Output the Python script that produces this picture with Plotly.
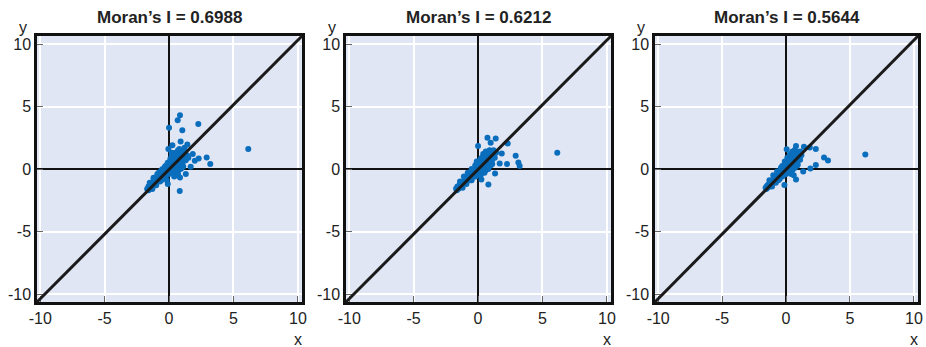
import plotly.graph_objects as go

titles = ["Moran’s I = 0.6988", "Moran’s I = 0.6212", "Moran’s I = 0.5644"]
tick_vals = [-10, -5, 0, 5, 10]
tick_text = ["-10", "-5", "0", "5", "10"]

# Panel 1 (x = standardized value, y = spatial lag)
p1_x = [-1.7, -1.6, -1.6, -1.5, -1.5, -1.45, -1.4, -1.4, -1.35, -1.3, -1.3, -1.25, -1.2, -1.2, -1.15,
        -1.1, -1.1, -1.05, -1.0, -1.0, -0.95, -0.9, -0.9, -0.85, -0.8, -0.8, -0.75, -0.7, -0.7, -0.65,
        -0.6, -0.6, -0.55, -0.5, -0.5, -0.45, -0.4, -0.4, -0.35, -0.3, -0.3, -0.25, -0.2, -0.2, -0.15,
        -0.1, -0.1, -0.05, 0.0, 0.0, 0.05, 0.1, 0.1, 0.15, 0.2, 0.2, 0.25, 0.3, 0.3, 0.35, 0.4, 0.4,
        0.45, 0.5, 0.5, 0.55, 0.6, 0.6, 0.65, 0.7, 0.7, 0.75, 0.8, 0.8, 0.85, 0.9, 0.9, 1.0, 1.0, 1.1,
        1.2, 1.3, 1.4, 1.5, 0.3, 0.5, 0.7, 0.9, 0.6, 1.1, -0.1, 0.1, 0.3, 0.5, -0.3, 0.2, 0.7, 1.2,
        -1.5, -1.2, -0.9, -0.6, -0.3, -1.3, -1.0, -0.7, -0.4, -0.8, -0.5, -0.2, 0.1, 0.4, 0.0, 0.3,
        -0.6, -0.3, 0.0, 0.6, 0.9, 1.2, 0.4, 0.7, 1.0, -0.9, -1.2, 0.2, 0.5, 0.8,
        0.85, 0.67, 2.27, 0.0, 1.03, 6.15, 0.83, 2.92, 3.2, 2.3, 1.84, 0.9, 0.26, 1.42, -0.05, 1.68,
        1.3, 0.85, -0.18, -0.1, 2.0]
p1_y = [-1.6, -1.7, -1.4, -1.5, -1.3, -1.6, -1.2, -1.45, -1.35, -1.1, -1.5, -1.25, -1.0, -1.3, -1.15,
        -0.9, -1.2, -1.0, -0.8, -1.1, -0.95, -0.7, -1.0, -0.85, -0.6, -0.9, -0.75, -0.5, -0.8, -0.6,
        -0.4, -0.7, -0.5, -0.3, -0.6, -0.4, -0.2, -0.5, -0.3, -0.1, -0.4, -0.2, 0.0, -0.3, -0.1,
        0.1, -0.2, 0.0, 0.2, -0.1, 0.1, 0.3, -0.05, 0.2, 0.4, 0.0, 0.3, 0.5, 0.1, 0.4, 0.6, 0.2,
        0.5, 0.7, 0.3, 0.6, 0.8, 0.2, 0.5, 0.9, 0.4, 0.7, 1.0, 0.3, 0.6, 1.1, 0.5, 0.8, 1.2, 0.6,
        1.0, 0.7, 1.1, 0.9, -0.3, -0.2, -0.1, 0.0, -0.5, 0.2, 0.5, 0.8, 1.0, 1.3, 0.2, 1.3, 1.5, 1.4,
        -1.1, -0.7, -0.4, -0.1, 0.2, -1.6, -1.3, -1.0, -0.7, -0.3, 0.0, 0.3, 0.6, 0.9, -0.4, -0.2,
        -0.9, -0.6, 0.5, 1.2, 1.4, 1.7, -0.6, -0.4, 0.1, -0.5, -0.8, 1.0, 1.1, 1.6,
        4.3, 3.9, 3.6, 3.3, 3.1, 1.6, -1.76, 0.93, 0.4, 0.85, 1.2, 2.2, 1.9, 1.97, 1.6, 0.19,
        -0.4, -0.67, -0.88, -1.2, 0.66]

# Panel 2
p2_x = [-1.7, -1.65, -1.6, -1.55, -1.5, -1.45, -1.4, -1.4, -1.35, -1.3, -1.25, -1.2, -1.2, -1.15,
        -1.1, -1.05, -1.0, -1.0, -0.95, -0.9, -0.85, -0.8, -0.8, -0.75, -0.7, -0.65, -0.6, -0.6,
        -0.55, -0.5, -0.45, -0.4, -0.4, -0.35, -0.3, -0.25, -0.2, -0.2, -0.15, -0.1, -0.05, 0.0, 0.0,
        0.05, 0.1, 0.15, 0.2, 0.2, 0.25, 0.3, 0.35, 0.4, 0.4, 0.45, 0.5, 0.55, 0.6, 0.6, 0.65, 0.7,
        0.75, 0.8, 0.8, 0.9, 1.0, 1.1, 1.2, 1.3, 1.4, 0.2, 0.4, 0.6, 0.8, 1.0, 0.5, 0.0, 0.2, 0.4,
        0.6, 0.9, 1.1, -0.2, 0.1,
        -1.4, -1.1, -0.8, -0.5, -0.2, -1.2, -0.9, -0.6, -0.3, 0.1, 0.4, 0.7, 1.0, -0.1, 0.3, 0.6,
        0.9, 1.2, -0.5, -0.2, 0.2, 0.5, 0.8, 1.1,
        6.15, 0.73, 1.37, 0.98, 2.3, 0.0, 2.92, 3.13, 3.23, 2.25, 1.84, 0.8, 1.32, 0.26, 1.68]
p2_y = [-1.55, -1.7, -1.4, -1.6, -1.35, -1.5, -1.25, -1.45, -1.3, -1.15, -1.35, -1.05, -1.25, -1.1,
        -0.95, -1.1, -0.85, -1.05, -0.9, -0.75, -0.9, -0.65, -0.85, -0.7, -0.55, -0.75, -0.45, -0.65,
        -0.5, -0.35, -0.55, -0.25, -0.45, -0.3, -0.15, -0.35, -0.05, -0.3, -0.1, 0.05, -0.2, 0.15, -0.1,
        0.05, 0.25, 0.0, 0.35, 0.1, 0.25, 0.45, 0.15, 0.55, 0.25, 0.4, 0.65, 0.3, 0.75, 0.4, 0.55, 0.85,
        0.5, 0.95, 0.45, 0.7, 1.0, 0.75, 1.1, 0.9, 1.3, -0.35, -0.25, -0.1, 0.0, 0.3, 1.0, 0.5, 0.8, 1.2,
        1.4, 1.5, 1.2, 0.3, -0.45,
        -1.0, -0.6, -0.3, 0.0, 0.3, -1.5, -1.2, -0.9, -0.6, -0.2, 0.1, 0.2, 0.5, 0.6, 0.9, 1.1,
        1.3, 1.5, -0.9, -0.6, -0.5, -0.3, 0.1, 0.4,
        1.3, 2.5, 2.45, 2.1, 2.05, 1.84, 1.07, 0.53, 0.24, 0.4, 1.25, -1.23, -0.35, -0.83, 0.45]

# Panel 3
p3_x = [-1.6, -1.55, -1.5, -1.45, -1.4, -1.4, -1.35, -1.3, -1.25, -1.2, -1.2, -1.15, -1.1, -1.05,
        -1.0, -1.0, -0.95, -0.9, -0.85, -0.8, -0.8, -0.75, -0.7, -0.65, -0.6, -0.6, -0.55, -0.5,
        -0.45, -0.4, -0.4, -0.35, -0.3, -0.25, -0.2, -0.2, -0.15, -0.1, -0.05, 0.0, 0.0, 0.05, 0.1,
        0.15, 0.2, 0.2, 0.25, 0.3, 0.35, 0.4, 0.4, 0.45, 0.5, 0.55, 0.6, 0.6, 0.65, 0.7, 0.75, 0.8,
        0.9, 1.0, 1.1, 1.2, 0.3, 0.5, 0.7, 0.9, 0.1, 0.3, 0.5, 0.7, 1.0, -0.3, -0.1, 0.4, 0.6,
        -1.3, -1.0, -0.7, -0.4, -0.1, -1.1, -0.8, -0.5, -0.2, 0.2, 0.5, 0.8, 1.1, 0.0, 0.3, 0.6,
        0.9, -0.6, -0.3, 0.1, 0.4, 0.7,
        6.2, 2.97, 3.28, 2.33, 2.33, 0.78, 1.4, 0.05, 1.86, 1.9, 0.78, -0.13, 1.34]
p3_y = [-1.5, -1.6, -1.35, -1.5, -1.25, -1.45, -1.3, -1.15, -1.3, -1.05, -1.25, -1.1, -0.95, -1.1,
        -0.85, -1.05, -0.9, -0.75, -0.9, -0.65, -0.85, -0.7, -0.55, -0.75, -0.45, -0.65, -0.5, -0.35,
        -0.55, -0.25, -0.45, -0.3, -0.15, -0.35, -0.05, -0.3, -0.1, 0.05, -0.2, 0.15, -0.1, 0.05, 0.25,
        0.0, 0.35, 0.1, 0.25, 0.45, 0.15, 0.55, 0.25, 0.4, 0.65, 0.3, 0.75, 0.4, 0.55, 0.85, 0.5, 0.95,
        0.7, 1.0, 0.75, 1.1, -0.25, -0.1, 0.1, 0.3, 0.9, 1.2, 1.4, 1.55, 1.3, 0.25, 0.6, -0.4, -0.5,
        -0.9, -0.5, -0.2, 0.1, 0.4, -1.4, -1.1, -0.8, -0.5, 0.6, 0.9, 1.2, 1.4, -0.4, -0.2, 0.1,
        0.4, -0.9, -0.6, -0.3, -0.1, 1.3,
        1.17, 0.93, 0.69, 1.6, 0.32, 1.84, 1.78, 1.58, 1.73, 0.05, -0.83, -1.28, -0.2]

xs = [p1_x, p2_x, p3_x]
ys = [p1_y, p2_y, p3_y]

W, H = 926, 347
lefts = [37, 346, 655]
rights = [302, 611, 918]
top, bottom = 36, 302
ml, mr, mt, mb = lefts[0], W - rights[2], top, H - bottom
pw = W - ml - mr
ph = H - mt - mb
domains = [[(l - ml) / pw, (r - ml) / pw] for l, r in zip(lefts, rights)]

FONT = "Liberation Sans, Arial, sans-serif"
BLUE = "#0a6ebd"
TXT = "#222"

fig = go.Figure()
annotations = []
shapes = []
for i in range(3):
    sfx = "" if i == 0 else str(i + 1)
    pwid = rights[i] - lefts[i]
    fig.add_trace(go.Scatter(
        x=xs[i], y=ys[i], mode="markers",
        marker=dict(color=BLUE, size=6, line=dict(width=0)),
        xaxis="x" + sfx, yaxis="y" + sfx, showlegend=False, hoverinfo="x+y"))
    common = dict(tickvals=tick_vals, ticktext=tick_text,
                  ticks="inside", ticklen=6, tickcolor="#666", tickwidth=1,
                  showgrid=True, gridcolor="white", gridwidth=2,
                  zeroline=True, zerolinecolor="#111", zerolinewidth=2,
                  showline=True, mirror=True, linecolor="#111", linewidth=2.5,
                  tickfont=dict(family=FONT, size=16, color=TXT),
                  ticklabeloverflow="allow",
                  automargin=False, fixedrange=True)
    ax = dict(domain=domains[i], range=[-10.25, 10.32], anchor="y" + sfx, **common)
    ay = dict(domain=[0, 1], range=[-10.64, 10.64], anchor="x" + sfx, **common)
    fig.update_layout(**{"xaxis" + sfx: ax, "yaxis" + sfx: ay})
    shapes.append(dict(type="line", xref="x" + sfx + " domain", yref="y" + sfx + " domain",
                       x0=0, y0=0, x1=1, y1=1, line=dict(color="#1a1a1a", width=3), layer="above"))
    annotations.append(dict(text="<b>" + titles[i] + "</b>", xref="x" + sfx + " domain",
                            yref="y" + sfx + " domain", x=0.5, y=1 + 18 / ph, showarrow=False,
                            font=dict(family=FONT, size=17, color=TXT),
                            xanchor="center", yanchor="middle"))
    annotations.append(dict(text="x", xref="x" + sfx + " domain", yref="y" + sfx + " domain",
                            x=(pwid - 4) / pwid, y=-37 / ph, showarrow=False,
                            font=dict(family=FONT, size=16, color=TXT),
                            xanchor="center", yanchor="middle"))
    annotations.append(dict(text="y", xref="x" + sfx + " domain", yref="y" + sfx + " domain",
                            x=-14 / pwid, y=1 + 9 / ph, showarrow=False,
                            font=dict(family=FONT, size=16, color=TXT),
                            xanchor="center", yanchor="middle"))

fig.update_layout(width=W, height=H, margin=dict(l=ml, r=mr, t=mt, b=mb, autoexpand=False),
                  paper_bgcolor="white", plot_bgcolor="#e1e6f4",
                  annotations=annotations, shapes=shapes)
fig.write_html("out.html", config={"displayModeBar": False},
               post_script="document.body.style.margin='0';document.body.style.overflow='hidden';")
